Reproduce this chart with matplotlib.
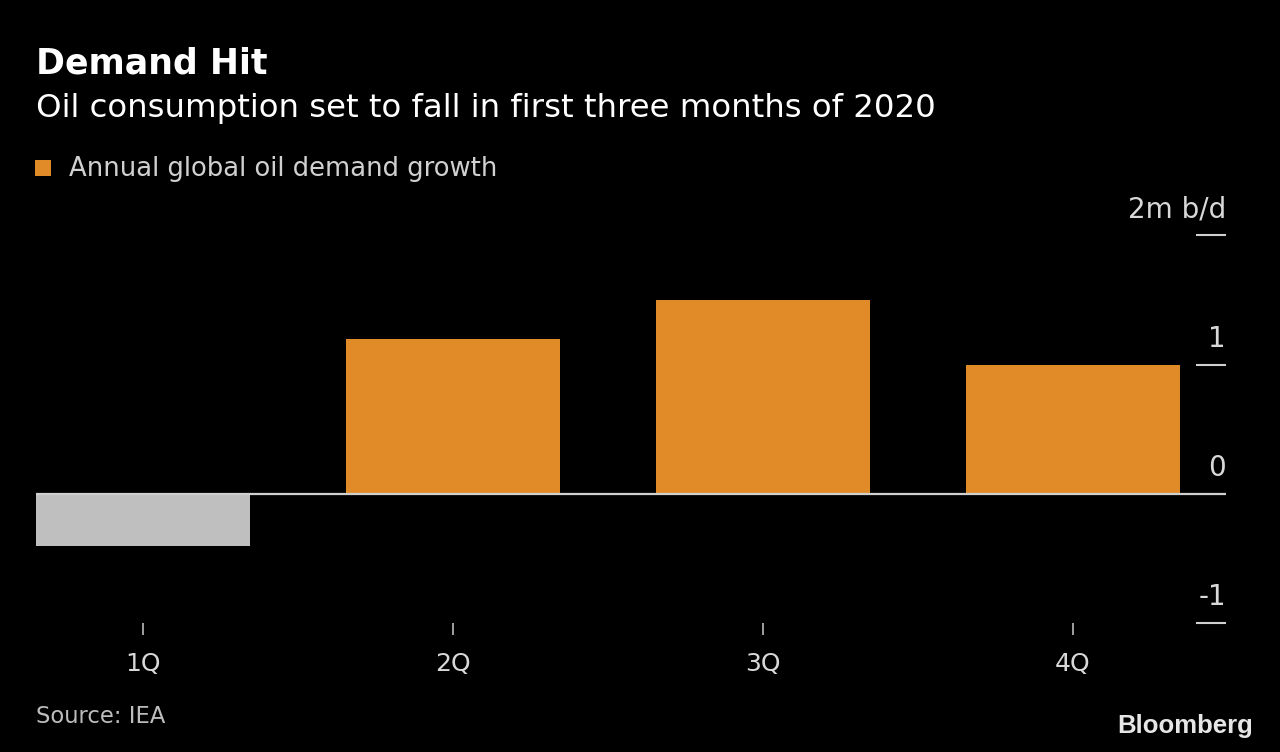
import matplotlib
matplotlib.use("Agg")
import matplotlib.pyplot as plt
from matplotlib.patches import Rectangle
import matplotlib.transforms as mtransforms

# Data
quarters = ["1Q", "2Q", "3Q", "4Q"]
growth = [-0.40, 1.20, 1.50, 1.00]
bar_colors = ["#bfbfbf", "#e08b27", "#e08b27", "#e08b27"]
ytick_vals = [-1, 0, 1, 2]
ytick_labels = ["-1", "0", "1", "2m b/d"]

W, H = 1280, 752
fig = plt.figure(figsize=(W / 100, H / 100), dpi=100, facecolor="black")

def px(x, y):
    # pixel coords (from top-left) to figure fraction
    return x / W, 1 - y / H

# Axes: x from 36 to 1226 px, y from 235 (2) to 623 (-1)
left, top = px(36, 235.3)
right, bottom = px(1226, 623.3)
ax = fig.add_axes([left, bottom, right - left, top - bottom])
ax.set_facecolor("black")

x = list(range(len(quarters)))
ax.bar(x, growth, width=0.69, color=bar_colors, zorder=2)
ax.axhline(0, color="#d0d0d0", lw=1.6, zorder=3)

ax.set_xlim(-0.345, 3.494)
ax.set_ylim(-1, 2)

for s in ax.spines.values():
    s.set_visible(False)

# x ticks
ax.set_xticks(x)
ax.set_xticklabels(quarters)
ax.tick_params(axis="x", direction="out", length=8.6, width=1.2, color="#bbbbbb",
               labelcolor="#d8d8d8", labelsize=18, pad=12)

# y ticks on right, drawn inward
ax.yaxis.tick_right()
ax.set_yticks([v for v in ytick_vals if v != 0])
ax.tick_params(axis="y", direction="in", length=21.6, width=1.5, color="#d0d0d0",
               labelright=False, labelleft=False)

trans = mtransforms.blended_transform_factory(ax.transAxes, ax.transData)
for v, lab in zip(ytick_vals, ytick_labels):
    ax.annotate(lab, xy=(1.0, v), xycoords=trans, xytext=(0, 13),
                textcoords="offset points", ha="right", va="baseline",
                fontsize=20, color="#d8d8d8")

# Titles
fig.text(*px(36, 74), "Demand Hit", fontsize=25, fontweight="bold",
         color="white", ha="left", va="baseline")
fig.text(*px(36, 117.3), "Oil consumption set to fall in first three months of 2020",
         fontsize=23.3, color="white", ha="left", va="baseline")

# Legend
lx, ly = px(35, 176)
fig.patches.append(Rectangle((lx, ly), 16 / W, 16 / H, transform=fig.transFigure,
                             facecolor="#e08b27", edgecolor="none"))
fig.text(*px(69, 175.7), "Annual global oil demand growth", fontsize=18.6,
         color="#d0d0d0", ha="left", va="baseline")

# Footer
fig.text(*px(36, 723), "Source: IEA", fontsize=16.3, color="#bdbdbd",
         ha="left", va="baseline")
fig.text(*px(1253, 733), "Bloomberg", fontsize=18.5, fontweight="bold",
         color="#e6e6e6", ha="right", va="baseline", family="Liberation Sans")

fig.savefig("out.png", dpi=100, facecolor="black")
